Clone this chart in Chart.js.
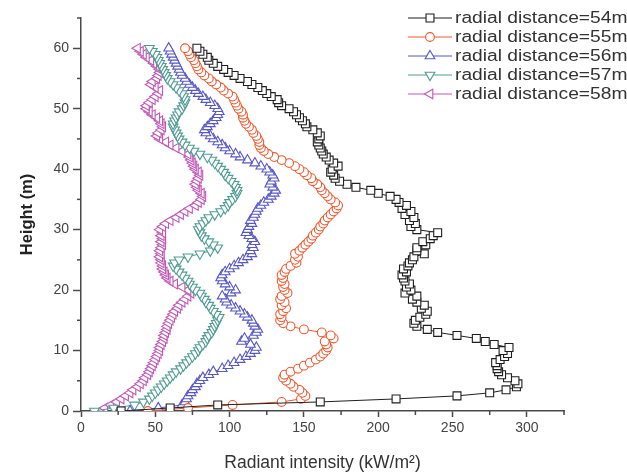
<!DOCTYPE html>
<html>
<head>
<meta charset="utf-8">
<script src="https://cdn.jsdelivr.net/npm/chart.js@4.4.1/dist/chart.umd.min.js"></script>
<style>
  html, body { margin: 0; padding: 0; background: #fff; }
  #wrap { position: relative; width: 627px; height: 475px; }
</style>
</head>
<body>
<div id="wrap"><canvas id="radiant_chart" width="627" height="475"></canvas></div>
<script>
// Höhen (m), gemeinsame y-Werte aller Reihen
const heights = [
  0, 0.5, 1, 1.5, 2, 2.5, 3, 3.5, 4, 4.5,
  5, 5.5, 6, 6.5, 7, 7.5, 8, 8.5, 9, 9.5,
  10, 10.5, 11, 11.5, 12, 12.5, 13, 13.5, 14, 14.5,
  15, 15.5, 16, 16.5, 17, 17.5, 18, 18.5, 19, 19.5,
  20, 20.5, 21, 21.5, 22, 22.5, 23, 23.5, 24, 24.5,
  25, 25.5, 26, 26.5, 27, 27.5, 28, 28.5, 29, 29.5,
  30, 30.5, 31, 31.5, 32, 32.5, 33, 33.5, 34, 34.5,
  35, 35.5, 36, 36.5, 37, 37.5, 38, 38.5, 39, 39.5,
  40, 40.5, 41, 41.5, 42, 42.5, 43, 43.5, 44, 44.5,
  45, 45.5, 46, 46.5, 47, 47.5, 48, 48.5, 49, 49.5,
  50, 50.5, 51, 51.5, 52, 52.5, 53, 53.5, 54, 54.5,
  55, 55.5, 56, 56.5, 57, 57.5, 58, 58.5, 59, 59.5,
  60
];

// Strahlungsintensität (kW/m²) je radialer Entfernung
const radial54 = [
  27, 60, 92, 161, 212, 253, 275, 286, 293, 294,
  292, 287, 283, 281, 280, 280, 279, 282, 285, 287,
  284, 288, 278, 272, 266, 253, 240, 233, 226, 224,
  225, 228, 232, 233, 229, 231, 226, 223, 226, 218,
  222, 219, 221, 218, 217, 216, 219, 217, 220, 221,
  223, 224, 231, 226, 226, 232, 230, 235, 237, 240,
  226, 222, 225, 221, 224, 218, 222, 216, 219, 214,
  212, 208, 200, 195, 185, 179, 174, 171, 170, 168,
  169, 173, 170, 167, 165, 163, 162, 161, 160, 159,
  160, 161, 159, 156, 152, 151, 149, 147, 145, 143,
  140, 135, 133, 132, 128, 125, 122, 119, 115, 112,
  107, 103, 99, 96, 92, 89, 86, 85, 82, 80,
  78
];
const radial55 = [
  45, 72, 102, 135, 148, 151, 149, 147, 143, 141,
  138, 136, 137, 141, 146, 150, 154, 158, 161, 163,
  165, 166, 165, 164, 170, 168, 162, 150, 141, 136,
  134, 135, 134, 136, 138, 135, 137, 134, 135, 139,
  137, 136, 137, 135, 136, 135, 137, 138, 141, 145,
  144, 146, 144, 147, 149, 151, 153, 155, 156, 158,
  160, 161, 163, 164, 166, 168, 170, 172, 173, 171,
  168, 166, 164, 162, 161, 159, 156, 155, 152, 150,
  147, 144, 140, 135, 130, 126, 123, 121, 120, 120,
  119, 118, 116, 115, 113, 111, 110, 109, 109, 108,
  106, 105, 104, 103, 102, 99, 96, 94, 91, 88,
  86, 83, 81, 79, 78, 77, 76, 74, 73, 72,
  70
];
const radial56 = [
  33, 52, 68, 70, 71, 72, 74, 75, 77, 78,
  80, 82, 86, 89, 95, 99, 103, 107, 111, 114,
  117, 118, 114, 108, 110, 116, 118, 119, 117, 116,
  115, 112, 110, 107, 104, 101, 98, 97, 95, 101,
  104, 100, 97, 95, 94, 95, 97, 100, 103, 106,
  109, 112, 115, 114, 116, 115, 117, 115, 113, 111,
  112, 113, 115, 114, 116, 117, 118, 119, 121, 123,
  126, 128, 130, 131, 129, 127, 128, 130, 129, 127,
  125, 121, 117, 112, 107, 104, 100, 97, 95, 92,
  89, 87, 84, 83, 85, 87, 89, 91, 92, 93,
  92, 90, 87, 84, 82, 79, 77, 75, 73, 71,
  70, 68, 67, 66, 65, 64, 63, 62, 61, 60,
  59
];
const radial57 = [
  9, 22, 36, 42, 46, 48, 50, 52, 54, 56,
  58, 60, 62, 64, 67, 69, 71, 73, 75, 77,
  79, 80, 82, 84, 85, 86, 88, 89, 90, 91,
  92, 93, 91, 89, 87, 86, 84, 83, 81, 80,
  77, 75, 73, 72, 70, 68, 66, 64, 62, 63,
  66, 72, 80, 87, 92, 89, 86, 83, 81, 80,
  79, 80, 82, 84, 86, 90, 94, 97, 99, 100,
  102, 104, 105, 105, 104, 103, 101, 99, 97, 96,
  94, 92, 90, 88, 85, 80, 76, 73, 70, 68,
  66, 65, 64, 63, 62, 62, 63, 64, 65, 66,
  68, 69, 70, 70, 69, 68, 66, 64, 62, 60,
  58, 57, 56, 55, 54, 53, 52, 51, 50, 48,
  46
];
const radial58 = [
  13, 16, 20, 24, 27, 30, 33, 35, 38, 40,
  42, 43, 45, 46, 47, 48, 49, 50, 51, 52,
  53, 53, 54, 55, 56, 56, 57, 58, 58, 59,
  60, 61, 62, 63, 65, 66, 68, 70, 72, 74,
  72, 68, 63, 60, 58, 57, 56, 55, 55, 54,
  54, 53, 54, 53, 54, 55, 54, 55, 54, 55,
  53, 55, 57, 60, 64, 67, 70, 73, 77, 79,
  81, 82, 81, 79, 78, 77, 78, 79, 80, 79,
  77, 76, 75, 74, 73, 72, 68, 64, 60, 57,
  53, 51, 52, 54, 55, 54, 53, 51, 48, 46,
  44, 44, 46, 48, 50, 52, 53, 50, 47, 48,
  51, 52, 53, 53, 51, 49, 47, 44, 42, 40,
  38
];

const seriesLabels = [
  'radial distance=54m', 'radial distance=55m', 'radial distance=56m',
  'radial distance=57m', 'radial distance=58m'
];
const xTicks = [0, 50, 100, 150, 200, 250, 300];
const xMinorTicks = [25, 75, 125, 175, 225, 275, 325];
const yTicks = [0, 10, 20, 30, 40, 50, 60];
const yMinorTicks = [5, 15, 25, 35, 45, 55, 65];

const seriesValues = [radial54, radial55, radial56, radial57, radial58];
const seriesColors = ['#1f1f1f', '#ee5a30', '#5757c6', '#4f9c94', '#c259b7'];
const markers = [
  { pointStyle: 'rect', rotation: 0, radius: 5.6 },
  { pointStyle: 'circle', rotation: 0, radius: 4.4 },
  { pointStyle: 'triangle', rotation: 0, radius: 5.6 },
  { pointStyle: 'triangle', rotation: 180, radius: 5.6 },
  { pointStyle: 'triangle', rotation: 270, radius: 5.6 }
];
const axisColor = '#4a4a4a';
const fontFamily = '"Liberation Sans", Arial, sans-serif';

// kleine Zwischenstriche an den Achsen
const minorTicksPlugin = {
  id: 'minorTicks',
  afterDraw(chart) {
    const { ctx, chartArea } = chart;
    const x = chart.scales.x, y = chart.scales.y;
    ctx.save();
    ctx.strokeStyle = axisColor;
    ctx.lineWidth = 1.5;
    xMinorTicks.forEach(v => {
      const px = x.getPixelForValue(v);
      ctx.beginPath();
      ctx.moveTo(px, chartArea.bottom);
      ctx.lineTo(px, chartArea.bottom + 4);
      ctx.stroke();
    });
    yMinorTicks.forEach(v => {
      const py = y.getPixelForValue(v);
      ctx.beginPath();
      ctx.moveTo(chartArea.left, py);
      ctx.lineTo(chartArea.left - 4, py);
      ctx.stroke();
    });
    ctx.restore();
  }
};

// Legende oben rechts, Linie + Symbol + Text
const legendPlugin = {
  id: 'cornerLegend',
  afterDraw(chart) {
    const ctx = chart.ctx;
    chart.data.datasets.forEach((ds, i) => {
      const rowY = 18 + i * 19;
      ctx.save();
      ctx.strokeStyle = seriesColors[i];
      ctx.lineWidth = 1;
      ctx.beginPath();
      ctx.moveTo(408, rowY);
      ctx.lineTo(452, rowY);
      ctx.stroke();
      ctx.fillStyle = '#fff';
      ctx.lineWidth = 1.1;
      Chart.helpers.drawPoint(ctx, {
        pointStyle: markers[i].pointStyle,
        rotation: markers[i].rotation,
        radius: markers[i].radius,
        borderWidth: 1.1
      }, 430, rowY);
      ctx.restore();

      ctx.save();
      ctx.fillStyle = '#333';
      ctx.font = '16px ' + fontFamily;
      ctx.textBaseline = 'middle';
      ctx.translate(455, rowY + 1);
      ctx.scale(1.2, 1);
      ctx.fillText(ds.label, 0, 0);
      ctx.restore();
    });
  }
};

const ctx = document.getElementById('radiant_chart').getContext('2d');
const radiantChart = new Chart(ctx, {
  type: 'scatter',
  data: {
    datasets: seriesValues.map((vals, i) => ({
      label: seriesLabels[i],
      data: vals.map((v, k) => ({ x: v, y: heights[k] })),
      showLine: true,
      tension: 0,
      fill: false,
      borderColor: seriesColors[i],
      borderWidth: 1,
      pointStyle: markers[i].pointStyle,
      pointRotation: markers[i].rotation,
      pointRadius: markers[i].radius,
      pointBorderColor: seriesColors[i],
      pointBackgroundColor: '#fff',
      pointBorderWidth: 1.1
    }))
  },
  options: {
    responsive: false,
    animation: false,
    layout: { padding: { top: 18, right: 63, left: 0, bottom: 0 } },
    plugins: {
      legend: { display: false },
      tooltip: { enabled: false }
    },
    scales: {
      x: {
        type: 'linear',
        min: 0,
        max: 325,
        afterBuildTicks: s => { s.ticks = xTicks.map(v => ({ value: v })); },
        afterFit: s => { s.height = 64; },
        ticks: {
          color: '#444',
          padding: 3,
          maxRotation: 0,
          font: { family: fontFamily, size: 14 }
        },
        grid: { drawOnChartArea: false, tickLength: 6, tickColor: axisColor, tickWidth: 1.5 },
        border: { display: true, color: axisColor, width: 1.5 },
        title: {
          display: true,
          text: 'Radiant intensity (kW/m²)',
          color: '#333',
          font: { family: fontFamily, size: 17.5 },
          padding: { top: 0, bottom: 1 }
        }
      },
      y: {
        type: 'linear',
        min: 0,
        max: 65,
        afterBuildTicks: s => { s.ticks = yTicks.map(v => ({ value: v })); },
        afterFit: s => { s.width = 81; },
        ticks: {
          color: '#444',
          padding: 4,
          font: { family: fontFamily, size: 14 }
        },
        grid: { drawOnChartArea: false, tickLength: 8, tickColor: axisColor, tickWidth: 1.5 },
        border: { display: true, color: axisColor, width: 1.5 },
        title: {
          display: true,
          text: 'Height (m)',
          color: '#222',
          font: { family: fontFamily, size: 16.5, weight: 'bold' },
          padding: { top: 18, bottom: 0 }
        }
      }
    }
  },
  plugins: [minorTicksPlugin, legendPlugin]
});
</script>
</body>
</html>
